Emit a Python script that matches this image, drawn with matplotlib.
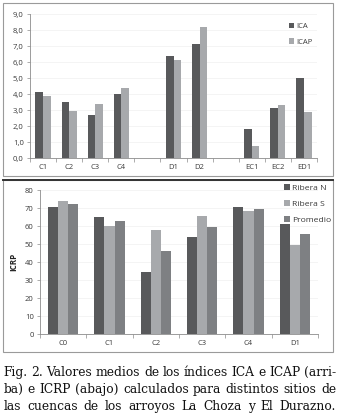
import matplotlib
matplotlib.use("Agg")
import matplotlib.pyplot as plt
import numpy as np
from matplotlib.patches import Rectangle
from matplotlib.lines import Line2D
from matplotlib.ticker import FuncFormatter, FixedLocator

# ---------------- data ----------------
top_categories = ["C1", "C2", "C3", "C4", "", "D1", "D2", "", "EC1", "EC2", "ED1"]
ica = [4.1, 3.5, 2.7, 4.0, np.nan, 6.4, 7.1, np.nan, 1.8, 3.1, 5.0]
icap = [3.9, 2.95, 3.4, 4.35, np.nan, 6.1, 8.2, np.nan, 0.75, 3.3, 2.9]
top_series = ["ICA", "ICAP"]

bottom_categories = ["C0", "C1", "C2", "C3", "C4", "D1"]
ribera_n = [70.5, 65.2, 34.5, 54.0, 70.4, 61.4]
ribera_s = [74.0, 60.0, 58.0, 65.6, 68.3, 49.5]
promedio = [72.4, 62.6, 46.2, 59.7, 69.5, 55.5]
bottom_series = ["Ribera N", "Ribera S", "Promedio"]
bottom_ylabel = "ICRP"

caption_lines = [
    "Fig. 2. Valores medios de los índices ICA e ICAP (arri-",
    "ba) e ICRP (abajo) calculados para distintos sitios de",
    "las cuencas de los arroyos La Choza y El Durazno.",
]

# ---------------- style ----------------
W, H = 339, 415
DARK = "#58595b"
LIGHT = "#a7a9ac"
MID = "#7e8083"
AXC = "#8c8c8c"
TXT = "#3a3a3a"
FONT = "Open Sans"
FS = 5.5

fig = plt.figure(figsize=(W / 100, H / 100), dpi=100)


def fig_rect(x0, y0, x1, y1):
    """pixel box (top-left origin) -> fig fraction [l, b, w, h]"""
    return [x0 / W, 1 - y1 / H, (x1 - x0) / W, (y1 - y0) / H]


def style_axes(ax, n):
    for s in ["top", "right"]:
        ax.spines[s].set_visible(False)
    for s in ["left", "bottom"]:
        ax.spines[s].set_color(AXC)
        ax.spines[s].set_linewidth(0.6)
    ax.set_xlim(-0.5, n - 0.5)
    ax.tick_params(axis="y", length=2.5, width=0.5, color=AXC, labelsize=FS,
                   labelcolor=TXT, pad=2)
    ax.tick_params(axis="x", which="major", length=0, labelsize=FS,
                   labelcolor=TXT, pad=4)
    ax.xaxis.set_minor_locator(FixedLocator(np.arange(-0.5, n + 0.5, 1)))
    ax.tick_params(axis="x", which="minor", length=3, width=0.5, color=AXC)
    ax.yaxis.grid(True, color="#f0f0f0", linewidth=0.5)
    ax.set_axisbelow(True)
    for lab in ax.get_xticklabels() + ax.get_yticklabels():
        lab.set_fontfamily(FONT)


# ---------------- panel frames ----------------
fig.add_artist(Rectangle((3 / W, 1 - 176 / H), 330 / W, 173 / H,
                         transform=fig.transFigure, fill=False,
                         edgecolor="#9a9a9a", linewidth=0.8))
fig.add_artist(Rectangle((3 / W, 1 - 352 / H), 330 / W, 172 / H,
                         transform=fig.transFigure, fill=False,
                         edgecolor="#9a9a9a", linewidth=0.8))
fig.add_artist(Line2D([3 / W, 333 / W], [1 - 180 / H, 1 - 180 / H],
                      transform=fig.transFigure, color="#333333", linewidth=1.4))

# ---------------- top chart ----------------
ax1 = fig.add_axes(fig_rect(30, 14, 317, 158))
x = np.arange(len(top_categories))
bw = 0.29
ax1.bar(x - bw / 2, ica, bw, color=DARK, label=top_series[0])
ax1.bar(x + bw / 2, icap, bw, color=LIGHT, label=top_series[1])
ax1.set_ylim(0, 9)
ax1.set_yticks(np.arange(0, 9.01, 1))
ax1.yaxis.set_major_formatter(FuncFormatter(lambda v, p: f"{v:.1f}".replace(".", ",")))
ax1.set_xticks(x)
ax1.set_xticklabels(top_categories)
style_axes(ax1, len(top_categories))
leg1 = ax1.legend(loc="upper right", bbox_to_anchor=(1.01, 0.985), frameon=False,
                  prop={"family": FONT, "size": FS}, handlelength=0.7,
                  handleheight=0.7, handletextpad=0.3, labelspacing=1.05,
                  labelcolor=TXT)

# ---------------- bottom chart ----------------
ax2 = fig.add_axes(fig_rect(40, 190, 318, 334.3))
x2 = np.arange(len(bottom_categories))
bw2 = 0.22
ax2.bar(x2 - bw2, ribera_n, bw2, color=DARK, label=bottom_series[0])
ax2.bar(x2, ribera_s, bw2, color=LIGHT, label=bottom_series[1])
ax2.bar(x2 + bw2, promedio, bw2, color=MID, label=bottom_series[2])
ax2.set_ylim(0, 80)
ax2.set_yticks(np.arange(0, 81, 10))
ax2.set_xticks(x2)
ax2.set_xticklabels(bottom_categories)
style_axes(ax2, len(bottom_categories))
ax2.set_ylabel(bottom_ylabel, fontsize=FS + 0.3, fontweight="bold",
               family=FONT, color="#222222", labelpad=5)
leg2 = ax2.legend(loc="upper right", bbox_to_anchor=(1.075, 1.095), frameon=False,
                  prop={"family": FONT, "size": FS + 0.6}, handlelength=0.7,
                  handleheight=0.7, handletextpad=0.3, labelspacing=0.95,
                  labelcolor=TXT)

# ---------------- caption (justified) ----------------
CAP_FS = 8.8
CAP_FONT = "DejaVu Serif"
x_left, x_right = 3.5, 336.0
line_y = [376, 393, 409.5]
renderer = fig.canvas.get_renderer()
for i, (line, yp) in enumerate(zip(caption_lines, line_y)):
    words = line.split(" ")
    arts = []
    widths = []
    for w in words:
        t = fig.text(0, 1 - yp / H, w, fontsize=CAP_FS, family=CAP_FONT,
                     color="#111111", va="baseline", ha="left")
        bb = t.get_window_extent(renderer=renderer)
        arts.append(t)
        widths.append(bb.width)
    total = sum(widths)
    gap = (x_right - x_left - total) / (len(words) - 1)
    xp = x_left
    for t, wd in zip(arts, widths):
        t.set_x(xp / W)
        xp += wd + gap

fig.savefig("out.png", dpi=100)
